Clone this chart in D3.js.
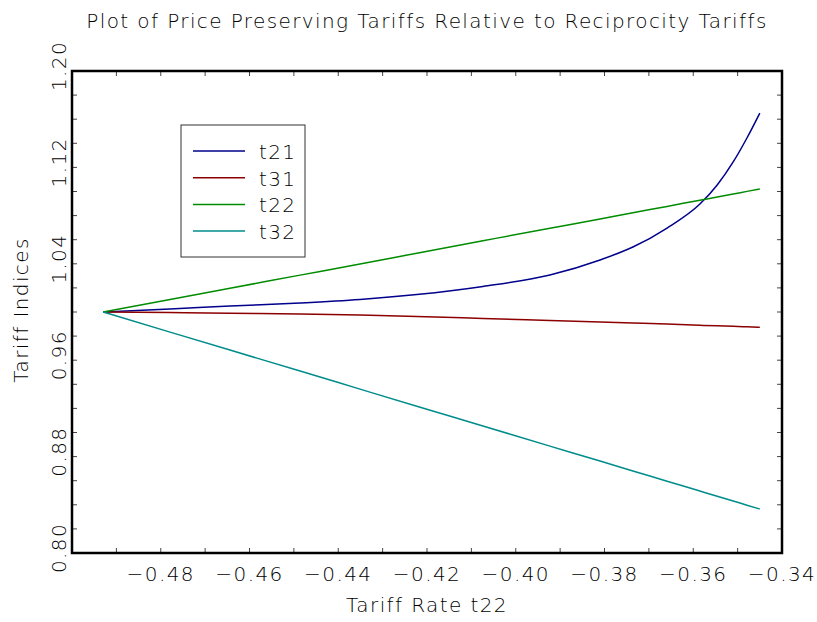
<!DOCTYPE html>
<html>
<head>
<meta charset="utf-8">
<script src="https://cdn.jsdelivr.net/npm/d3@7"></script>
<style>
  body { margin: 0; background: #fff; }
  svg text { font-family: "DejaVu Sans", sans-serif; font-weight: 200; fill: #000; letter-spacing: 1.4px; }
</style>
</head>
<body>
<div id="content"></div>
<script>
// tariff rate t22 (x) and the four tariff indices
const rates = [-0.4930, -0.4779, -0.4644, -0.4486, -0.4351, -0.4223, -0.4074, -0.3923,
               -0.3810, -0.3736, -0.3659, -0.3585, -0.3546, -0.3510, -0.3479, -0.3450];
const t21 = [1.0000, 1.0025, 1.0050, 1.0075, 1.0104, 1.0145, 1.0212, 1.0307,
             1.0432, 1.0539, 1.0697, 1.0896, 1.1054, 1.1245, 1.1444, 1.1651];
const t31 = [1.0000, 0.9995, 0.9989, 0.9983, 0.9975, 0.9963, 0.9946, 0.9929,
             0.9917, 0.9909, 0.9900, 0.9890, 0.9885, 0.9881, 0.9877, 0.9874];
const t22 = [1.0000, 1.0104, 1.0197, 1.0306, 1.0399, 1.0488, 1.0591, 1.0695,
             1.0772, 1.0824, 1.0876, 1.0928, 1.0954, 1.0979, 1.1001, 1.1021];
const t32 = [1.0000, 0.9833, 0.9684, 0.9510, 0.9360, 0.9218, 0.9054, 0.8887,
             0.8763, 0.8680, 0.8596, 0.8514, 0.8471, 0.8432, 0.8397, 0.8365];

const seriesNames = ['t21', 't31', 't22', 't32'];
const seriesValues = [t21, t31, t22, t32];
const colors = ['#00008c', '#8c0000', '#008c00', '#008c8c'];

const xTicks = [-0.48, -0.46, -0.44, -0.42, -0.40, -0.38, -0.36, -0.34];
const yTicks = [0.80, 0.88, 0.96, 1.04, 1.12, 1.20];

var width = 817;
var height = 622;
var margin = {top: 71, right: 35, bottom: 69, left: 72};
var fontSize = 20;

const svg = d3.select('#content')
              .append('svg')
              .attr('width', width)
              .attr('height', height);

const x = d3.scaleLinear()
            .domain([-0.50, -0.34])
            .range([margin.left, width - margin.right]);

const y = d3.scaleLinear()
            .domain([0.80, 1.20])
            .range([height - margin.bottom, margin.top]);

// title
svg.append('text')
   .attr('x', (margin.left + width - margin.right) / 2)
   .attr('y', 28)
   .attr('text-anchor', 'middle')
   .style('font-size', fontSize + 'px')
   .text('Plot of Price Preserving Tariffs Relative to Reciprocity Tariffs');

// ticks on all four sides, pointing inward
const tickLen = 5;
const xMinor = d3.range(-0.50, -0.3399, 0.01);
const yMinor = d3.range(0.80, 1.2001, 0.02);

const ticks = svg.append('g').attr('stroke', '#444').attr('stroke-width', 1);
xMinor.forEach(v => {
    ticks.append('line')
         .attr('x1', x(v)).attr('x2', x(v))
         .attr('y1', y.range()[0]).attr('y2', y.range()[0] - tickLen);
    ticks.append('line')
         .attr('x1', x(v)).attr('x2', x(v))
         .attr('y1', y.range()[1]).attr('y2', y.range()[1] + tickLen);
});
yMinor.forEach(v => {
    ticks.append('line')
         .attr('y1', y(v)).attr('y2', y(v))
         .attr('x1', x.range()[0]).attr('x2', x.range()[0] + tickLen);
    ticks.append('line')
         .attr('y1', y(v)).attr('y2', y(v))
         .attr('x1', x.range()[1]).attr('x2', x.range()[1] - tickLen);
});

// tick labels
svg.append('g')
   .selectAll('text')
   .data(xTicks)
   .enter()
   .append('text')
   .attr('x', d => x(d))
   .attr('y', 581)
   .attr('text-anchor', 'middle')
   .style('font-size', fontSize + 'px')
   .text(d => d3.format('.2f')(d));

svg.append('g')
   .selectAll('text')
   .data(yTicks)
   .enter()
   .append('text')
   .attr('transform', d => 'translate(66,' + (y(d) - 5) + ') rotate(-90)')
   .attr('text-anchor', 'middle')
   .style('font-size', fontSize + 'px')
   .text(d => d3.format('.2f')(d));

// axis titles
svg.append('text')
   .attr('x', (margin.left + width - margin.right) / 2)
   .attr('y', 612)
   .attr('text-anchor', 'middle')
   .style('font-size', fontSize + 'px')
   .text('Tariff Rate t22');

svg.append('text')
   .attr('transform', 'translate(28,' + (y(1.0) - 2) + ') rotate(-90)')
   .attr('text-anchor', 'middle')
   .style('font-size', fontSize + 'px')
   .text('Tariff Indices');

// data lines
const line = d3.line()
               .curve(d3.curveMonotoneX)
               .x((d, i) => x(rates[i]))
               .y(d => y(d));

svg.append('g')
   .selectAll('path')
   .data(seriesValues)
   .enter()
   .append('path')
   .attr('d', line)
   .attr('fill', 'none')
   .attr('stroke', (d, i) => colors[i])
   .attr('stroke-width', 1.5);

// frame
svg.append('rect')
   .attr('x', x.range()[0])
   .attr('y', y.range()[1])
   .attr('width', x.range()[1] - x.range()[0])
   .attr('height', y.range()[0] - y.range()[1])
   .attr('fill', 'none')
   .attr('stroke', '#000')
   .attr('stroke-width', 2.5);

// legend
const legend = svg.append('g')
                  .attr('id', 'legend')
                  .attr('transform', 'translate(181,125)');

legend.append('rect')
      .attr('width', 124)
      .attr('height', 132)
      .attr('fill', '#fff')
      .attr('stroke', '#333')
      .attr('stroke-width', 1);

const items = legend.selectAll('g')
                    .data(seriesNames)
                    .enter()
                    .append('g')
                    .attr('transform', (d, i) => 'translate(0,' + (26 + i * 26.7) + ')');

items.append('line')
     .attr('x1', 12).attr('x2', 64)
     .attr('stroke', (d, i) => colors[i])
     .attr('stroke-width', 1.5);

items.append('text')
     .attr('x', 78)
     .attr('y', 8)
     .style('font-size', fontSize + 'px')
     .text(d => d);
</script>
</body>
</html>
